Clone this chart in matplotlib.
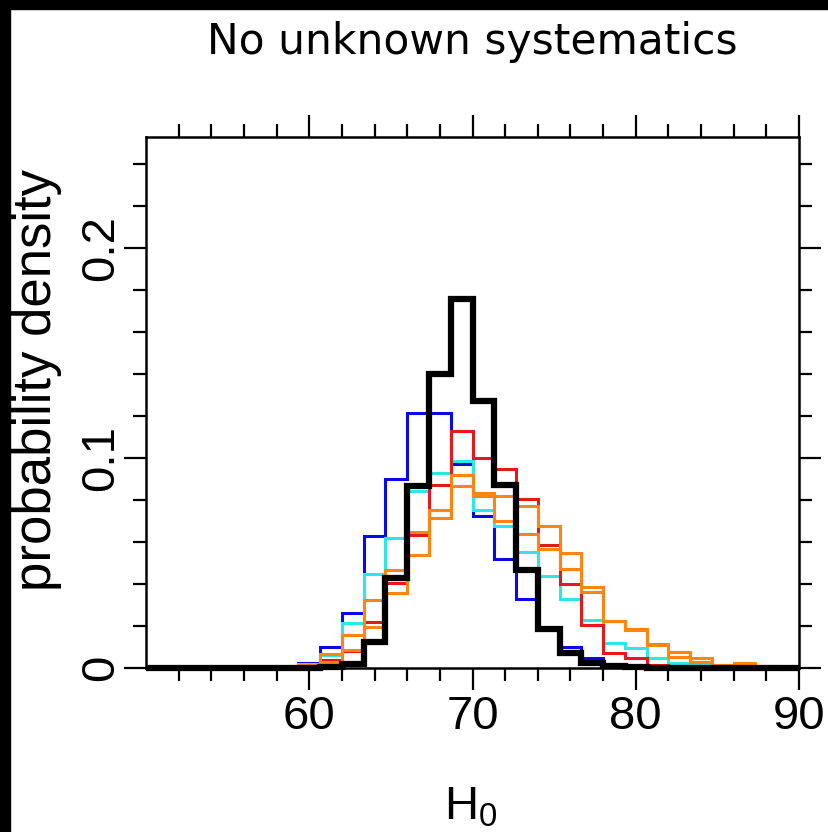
import numpy as np
import matplotlib
matplotlib.use("Agg")
import matplotlib.pyplot as plt
from matplotlib.patches import Rectangle

# histogram binning: 30 bins between 50 and 90
H0_MIN, H0_MAX, N_BINS = 50, 90, 30

# probability density per bin, one list per run
blue = [0, 0, 0, 0, 0, 0.0002, 0.0006, 0.0025, 0.0099, 0.0264,
        0.0627, 0.090, 0.1216, 0.1216, 0.097, 0.0726, 0.0519, 0.033, 0.019, 0.0102,
        0.0048, 0.0015, 0.0005, 0.0002, 0, 0, 0, 0, 0, 0]
cyan = [0, 0, 0, 0, 0, 0, 0.0006, 0.0018, 0.006, 0.0213,
        0.0449, 0.0619, 0.0842, 0.093, 0.0985, 0.0754, 0.0675, 0.0555, 0.0436, 0.0328,
        0.0229, 0.0118, 0.0094, 0.0046, 0.0022, 0.0012, 0.0005, 0.0002, 0, 0]
red = [0, 0, 0, 0, 0, 0, 0.0003, 0.001, 0.004, 0.008,
       0.022, 0.0404, 0.0635, 0.0874, 0.1128, 0.1001, 0.0948, 0.0805, 0.0587, 0.040,
       0.0205, 0.007, 0.0049, 0.0014, 0.0005, 0, 0, 0, 0, 0]
orange_a = [0, 0, 0, 0, 0, 0, 0, 0.0012, 0.0067, 0.0157,
            0.0325, 0.0468, 0.065, 0.0754, 0.0921, 0.0834, 0.0818, 0.077, 0.0675, 0.055,
            0.0388, 0.0226, 0.0185, 0.0113, 0.0078, 0.0046, 0.0014, 0.0022, 0.0008, 0]
orange_b = [0, 0, 0, 0, 0, 0, 0, 0.0006, 0.003, 0.0086,
            0.0197, 0.0357, 0.054, 0.0715, 0.0866, 0.0818, 0.0699, 0.064, 0.0568, 0.0471,
            0.036, 0.0226, 0.018, 0.011, 0.0054, 0.003, 0.0014, 0.002, 0.0008, 0]
black = [0, 0, 0, 0, 0, 0, 0, 0, 0.0005, 0.002,
         0.0126, 0.0428, 0.0866, 0.140, 0.1757, 0.127, 0.0874, 0.0468, 0.0185, 0.007,
         0.0024, 0.001, 0.0003, 0, 0, 0, 0, 0, 0, 0]

x_major = [60, 70, 80, 90]
x_minor = [52, 54, 56, 58, 62, 64, 66, 68, 72, 74, 76, 78, 82, 84, 86, 88]
y_major = [0, 0.1, 0.2]
y_minor = [0.02, 0.04, 0.06, 0.08, 0.12, 0.14, 0.16, 0.18, 0.22, 0.24]
y_labels = ["0", "0.1", "0.2"]

plt.rcParams["font.family"] = ["Liberation Sans", "DejaVu Sans"]
plt.rcParams["mathtext.default"] = "regular"

fig = plt.figure(figsize=(8.29, 8.32), dpi=100)
ax = fig.add_axes([146 / 829, 1 - 668 / 832, 653 / 829, 531 / 832])

edges = np.linspace(H0_MIN, H0_MAX, N_BINS + 1)
for vals, col in [(blue, "#0a0ae6"), (cyan, "#2fe6e6"), (red, "#e41a1a"),
                  (orange_b, "#ff8410"), (orange_a, "#ff8410")]:
    ax.stairs(vals, edges, color=col, lw=2.2, baseline=0)
ax.stairs(black, edges, color="black", lw=4.5, baseline=0, clip_on=False)

ax.set_xlim(H0_MIN, H0_MAX)
ax.set_ylim(0, 0.253)
ax.set_xticks(x_major)
ax.set_xticks(x_minor, minor=True)
ax.set_yticks(y_major)
ax.set_yticks(y_minor, minor=True)
ax.set_yticklabels(y_labels, rotation=90, va="center")

for s in ax.spines.values():
    s.set_linewidth(1.8)
ax.tick_params(which="both", direction="out", top=True, right=True, width=1.6,
               labelsize=34, pad=4)
ax.tick_params(axis="y", pad=1)
ax.tick_params(which="major", length=15.5)
ax.tick_params(which="minor", length=9.5)

ax.set_ylabel("probability density", fontsize=38)
ax.yaxis.set_label_coords(-0.128, 0.542)
ax.set_xlabel("H$_0$", fontsize=34, va="top")
ax.xaxis.set_label_coords(0.497, -0.222)

fig.text(472.5 / 829, 1 - 54 / 832, "No unknown systematics", ha="center",
         va="baseline", fontsize=30.5, family="DejaVu Sans")

# dark frame strips along the top and left edges
fig.patches.append(Rectangle((0, 1 - 9 / 832), 1, 9 / 832, transform=fig.transFigure,
                             color="black", zorder=10))
fig.patches.append(Rectangle((0, 0), 10 / 829, 1, transform=fig.transFigure,
                             color="black", zorder=10))

fig.savefig("out.png", dpi=100)
